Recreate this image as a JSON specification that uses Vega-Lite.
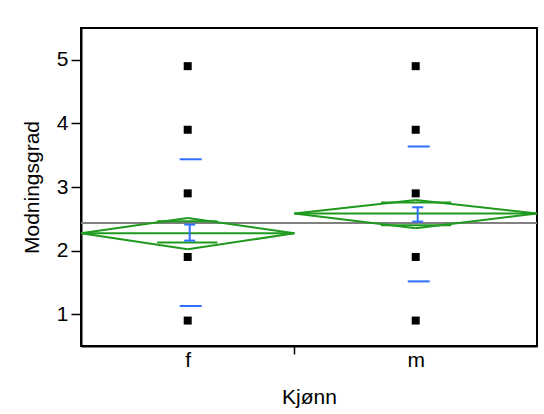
{
  "$schema": "https://vega.github.io/schema/vega-lite/v6.json",
  "width": 456,
  "height": 318,
  "autosize": "none",
  "padding": {"left": 81, "top": 28, "right": 7, "bottom": 68},
  "background": "white",
  "config": {
    "font": "Liberation Sans",
    "view": {"stroke": "#000000", "strokeWidth": 2},
    "axis": {
      "domainColor": "#000000",
      "domainWidth": 2,
      "tickColor": "#000000",
      "tickWidth": 1.5,
      "labelColor": "#000000",
      "titleColor": "#000000",
      "labelFont": "Liberation Sans",
      "titleFont": "Liberation Sans",
      "labelFontSize": 21,
      "titleFontSize": 21,
      "titleFontWeight": "normal",
      "grid": false
    }
  },
  "datasets": {
    "groups": [
      {"Kjønn": "f", "start": 0, "mid": 0.234, "end": 0.468, "mean": 2.272, "ciLo": 2.02, "ciHi": 2.513, "ovLo": 2.126, "ovHi": 2.46, "ovL": 0.167, "ovR": 0.299, "seLo": 2.157, "seHi": 2.409, "sdLo": 1.129, "sdHi": 3.436},
      {"Kjønn": "m", "start": 0.468, "mid": 0.734, "end": 1, "mean": 2.582, "ciLo": 2.351, "ciHi": 2.796, "ovLo": 2.398, "ovHi": 2.755, "ovL": 0.658, "ovR": 0.812, "seLo": 2.456, "seHi": 2.681, "sdLo": 1.516, "sdHi": 3.637}
    ],
    "points": [
      {"Kjønn": "f", "Modningsgrad": 0.9},
      {"Kjønn": "f", "Modningsgrad": 1.9},
      {"Kjønn": "f", "Modningsgrad": 2.9},
      {"Kjønn": "f", "Modningsgrad": 3.9},
      {"Kjønn": "f", "Modningsgrad": 4.9},
      {"Kjønn": "m", "Modningsgrad": 0.9},
      {"Kjønn": "m", "Modningsgrad": 1.9},
      {"Kjønn": "m", "Modningsgrad": 2.9},
      {"Kjønn": "m", "Modningsgrad": 3.9},
      {"Kjønn": "m", "Modningsgrad": 4.9}
    ]
  },
  "layer": [
    {
      "data": {"values": [{"grandMean": 2.434}]},
      "mark": {"type": "rule", "color": "#808080", "strokeWidth": 2},
      "encoding": {
        "y": {
          "field": "grandMean",
          "type": "quantitative",
          "scale": {"domain": [0.5, 5.5], "nice": false, "zero": false},
          "axis": {
            "title": "Modningsgrad",
            "values": [1, 1.5, 2, 2.5, 3, 3.5, 4, 4.5, 5],
            "labelExpr": "datum.value % 1 === 0 ? format(datum.value, 'd') : ''",
            "tickSize": {"condition": {"test": "datum.value % 1 === 0", "value": 10}, "value": 5},
            "labelPadding": 3,
            "titlePadding": 14
          }
        }
      }
    },
    {
      "data": {"name": "groups"},
      "mark": {"type": "rule", "color": "#1f9a1f", "strokeWidth": 2},
      "encoding": {
        "x": {
          "field": "start",
          "type": "quantitative",
          "scale": {"domain": [0, 1], "nice": false, "zero": false},
          "axis": {
            "title": "Kjønn",
            "values": [0.234, 0.468, 0.734],
            "labelExpr": "datum.value < 0.3 ? 'f' : (datum.value > 0.6 ? 'm' : '')",
            "tickSize": 8,
            "tickOpacity": {"condition": {"test": "datum.value > 0.4 && datum.value < 0.5", "value": 1}, "value": 0},
            "labelPadding": -5,
            "titlePadding": 16
          }
        },
        "x2": {"field": "mid"},
        "y": {"field": "mean", "type": "quantitative"},
        "y2": {"field": "ciHi"}
      }
    },
    {
      "data": {"name": "groups"},
      "mark": {"type": "rule", "color": "#1f9a1f", "strokeWidth": 2},
      "encoding": {
        "x": {"field": "mid", "type": "quantitative"},
        "x2": {"field": "end"},
        "y": {"field": "ciHi", "type": "quantitative"},
        "y2": {"field": "mean"}
      }
    },
    {
      "data": {"name": "groups"},
      "mark": {"type": "rule", "color": "#1f9a1f", "strokeWidth": 2},
      "encoding": {
        "x": {"field": "start", "type": "quantitative"},
        "x2": {"field": "mid"},
        "y": {"field": "mean", "type": "quantitative"},
        "y2": {"field": "ciLo"}
      }
    },
    {
      "data": {"name": "groups"},
      "mark": {"type": "rule", "color": "#1f9a1f", "strokeWidth": 2},
      "encoding": {
        "x": {"field": "mid", "type": "quantitative"},
        "x2": {"field": "end"},
        "y": {"field": "ciLo", "type": "quantitative"},
        "y2": {"field": "mean"}
      }
    },
    {
      "data": {"name": "groups"},
      "mark": {"type": "rule", "color": "#1f9a1f", "strokeWidth": 2},
      "encoding": {
        "x": {"field": "start", "type": "quantitative"},
        "x2": {"field": "end"},
        "y": {"field": "mean", "type": "quantitative"}
      }
    },
    {
      "data": {"name": "groups"},
      "mark": {"type": "rule", "color": "#1f9a1f", "strokeWidth": 2},
      "encoding": {
        "x": {"field": "ovL", "type": "quantitative"},
        "x2": {"field": "ovR"},
        "y": {"field": "ovHi", "type": "quantitative"}
      }
    },
    {
      "data": {"name": "groups"},
      "mark": {"type": "rule", "color": "#1f9a1f", "strokeWidth": 2},
      "encoding": {
        "x": {"field": "ovL", "type": "quantitative"},
        "x2": {"field": "ovR"},
        "y": {"field": "ovLo", "type": "quantitative"}
      }
    },
    {
      "data": {"name": "groups"},
      "mark": {"type": "rule", "color": "#2f6fff", "strokeWidth": 2, "xOffset": 2},
      "encoding": {
        "x": {"field": "mid", "type": "quantitative"},
        "y": {"field": "seLo", "type": "quantitative"},
        "y2": {"field": "seHi"}
      }
    },
    {
      "data": {"name": "groups"},
      "mark": {"type": "tick", "color": "#2f6fff", "orient": "horizontal", "size": 11, "thickness": 2, "xOffset": 2, "opacity": 1},
      "encoding": {
        "x": {"field": "mid", "type": "quantitative"},
        "y": {"field": "seLo", "type": "quantitative"}
      }
    },
    {
      "data": {"name": "groups"},
      "mark": {"type": "tick", "color": "#2f6fff", "orient": "horizontal", "size": 11, "thickness": 2, "xOffset": 2, "opacity": 1},
      "encoding": {
        "x": {"field": "mid", "type": "quantitative"},
        "y": {"field": "seHi", "type": "quantitative"}
      }
    },
    {
      "data": {"name": "groups"},
      "mark": {"type": "tick", "color": "#2f6fff", "orient": "horizontal", "size": 22, "thickness": 2, "xOffset": 3, "opacity": 1},
      "encoding": {
        "x": {"field": "mid", "type": "quantitative"},
        "y": {"field": "sdLo", "type": "quantitative"}
      }
    },
    {
      "data": {"name": "groups"},
      "mark": {"type": "tick", "color": "#2f6fff", "orient": "horizontal", "size": 22, "thickness": 2, "xOffset": 3, "opacity": 1},
      "encoding": {
        "x": {"field": "mid", "type": "quantitative"},
        "y": {"field": "sdHi", "type": "quantitative"}
      }
    },
    {
      "data": {"name": "points"},
      "transform": [
        {"lookup": "Kjønn", "from": {"data": {"name": "groups"}, "key": "Kjønn", "fields": ["mid"]}}
      ],
      "mark": {"type": "point", "shape": "square", "filled": true, "color": "#000000", "size": 64, "opacity": 1},
      "encoding": {
        "x": {"field": "mid", "type": "quantitative"},
        "y": {"field": "Modningsgrad", "type": "quantitative"}
      }
    },
    {
      "mark": {"type": "rule", "color": "#000000", "strokeWidth": 1.5, "clip": false},
      "encoding": {
        "x": {"datum": -0.164},
        "x2": {"datum": 1.2},
        "y": {"datum": 5.747}
      }
    },
    {
      "mark": {"type": "rule", "color": "#000000", "strokeWidth": 1.5, "clip": false},
      "encoding": {
        "x": {"datum": -0.164},
        "y": {"datum": 5.747},
        "y2": {"datum": -1}
      }
    }
  ]
}
